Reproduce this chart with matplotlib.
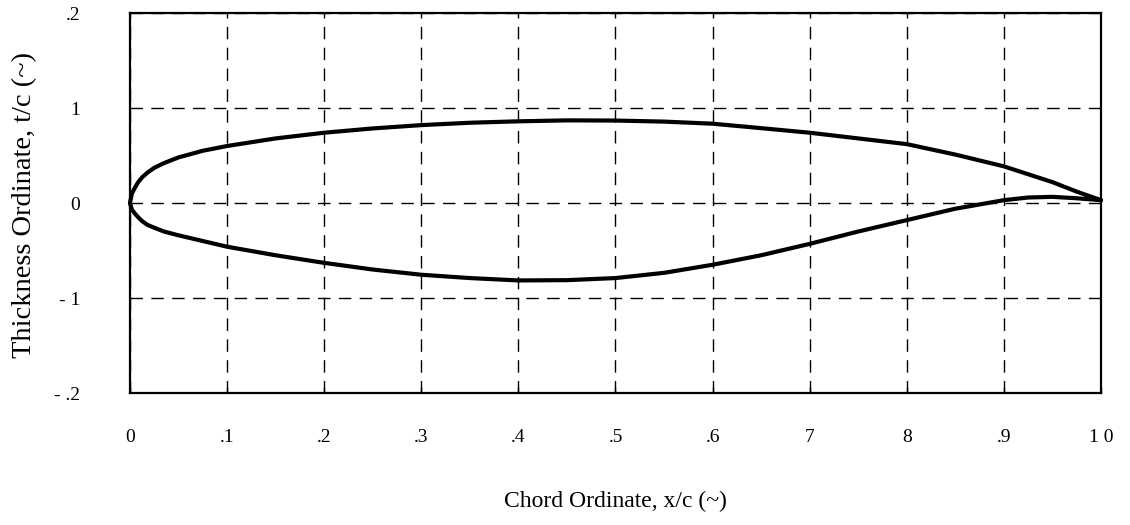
import matplotlib
matplotlib.use("Agg")
import matplotlib.pyplot as plt

plt.rcParams['font.family'] = ['Liberation Serif', 'DejaVu Serif']

# airfoil ordinates
x_up = [0, 0.002, 0.005, 0.0085, 0.0125, 0.018, 0.025, 0.035, 0.05, 0.075, 0.1, 0.15, 0.2, 0.25, 0.3,
        0.35, 0.4, 0.45, 0.5, 0.55, 0.6, 0.65, 0.7, 0.75, 0.8, 0.85, 0.9, 0.95, 0.975, 1.0]
y_up = [0, 0.010, 0.016, 0.022, 0.027, 0.032, 0.037, 0.042, 0.048, 0.055, 0.060, 0.068, 0.074, 0.0785, 0.082,
        0.0845, 0.086, 0.087, 0.0868, 0.0857, 0.0835, 0.0788, 0.074, 0.068, 0.062, 0.051, 0.0386, 0.022, 0.012, 0.003]

x_lo = [0, 0.002, 0.005, 0.0085, 0.0125, 0.018, 0.025, 0.035, 0.05, 0.075, 0.1, 0.15, 0.2, 0.25, 0.3,
        0.35, 0.4, 0.45, 0.5, 0.55, 0.6, 0.65, 0.7, 0.75, 0.8, 0.85, 0.9, 0.925, 0.95, 0.975, 1.0]
y_lo = [0, -0.007, -0.011, -0.015, -0.019, -0.023, -0.026, -0.030, -0.034, -0.040, -0.046, -0.055, -0.063, -0.070, -0.0755,
        -0.079, -0.0815, -0.0812, -0.079, -0.0735, -0.065, -0.055, -0.043, -0.030, -0.018, -0.006, 0.003, 0.0058, 0.0065, 0.005, 0.003]

x_ticks = [0, 0.1, 0.2, 0.3, 0.4, 0.5, 0.6, 0.7, 0.8, 0.9, 1.0]
x_labels = ['0', '.1', '.2', '.3', '.4', '.5', '.6', '7', '8', '.9', '1 0']
y_ticks = [0.2, 0.1, 0, -0.1, -0.2]
y_labels = ['.2', '1', '0', '- 1', '- .2']

fig = plt.figure(figsize=(11.3, 5.25), dpi=100)
ax = fig.add_axes([0.115, 0.2514, 0.8593, 0.7238])

# one closed outline: upper surface back to LE, then lower surface to TE
xs = x_up[::-1] + x_lo[1:]
ys = y_up[::-1] + y_lo[1:]
ax.plot(xs, ys, color='black', lw=3, clip_on=False,
        solid_joinstyle='round', solid_capstyle='round')

ax.set_xlim(0, 1)
ax.set_ylim(-0.2, 0.2)
ax.set_xticks(x_ticks)
ax.set_xticklabels(x_labels, fontsize=14)
ax.set_yticks(y_ticks)
ax.set_yticklabels(y_labels, fontsize=14)
ax.tick_params(axis='x', direction='in', length=4, pad=26, width=1)
ax.tick_params(axis='y', length=0, pad=36)

ax.grid(True, color='black', linestyle=(0, (9, 6)), lw=1)
for s in ax.spines.values():
    s.set_linewidth(1.6)

ax.set_xlabel('Chord Ordinate, x/c (~)', fontsize=17, labelpad=32)
fig.text(0.022, 0.61, 'Thickness Ordinate, t/c (~)', fontsize=20.5,
         rotation=90, ha='center', va='center')

fig.savefig('out.png', dpi=100)
